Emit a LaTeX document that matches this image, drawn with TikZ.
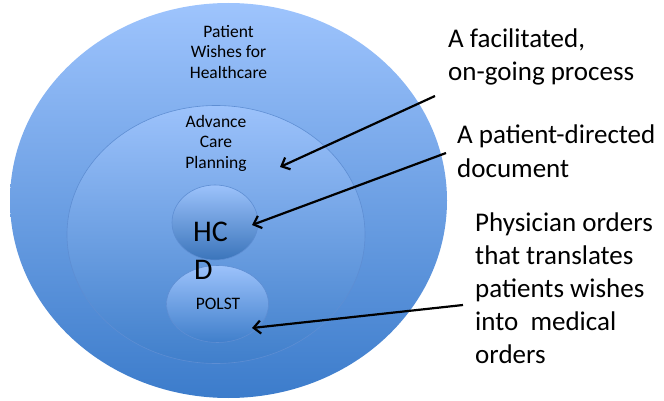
\documentclass[tikz,border=0pt]{standalone}
\usepackage{fontspec}
\setmainfont{Carlito}
\usetikzlibrary{arrows.meta,shapes.geometric}

\definecolor{skyTop}{HTML}{9EC4FD}
\definecolor{skyBot}{HTML}{3C7CCB}
\definecolor{ringTop}{HTML}{9CC2FB}
\definecolor{ringBot}{HTML}{407FCB}
\definecolor{ringEdge}{HTML}{5E8ED3}

\tikzset{
  bubble/.style={ellipse, inner sep=0pt, top color=ringTop, bottom color=ringBot,
                 draw=ringEdge, line width=0.6pt},
  smalltxt/.style={font=\fontsize{17.5}{20.5}\selectfont, align=center, inner sep=0pt},
  bigtxt/.style={font=\fontsize{27}{33}\selectfont, align=left, inner sep=0pt, anchor=base west},
  pointer/.style={line width=2.2pt, -{Straight Barb[length=7pt,width=13pt]}}
}

\begin{document}
\begin{tikzpicture}[x=1pt, y=-1pt]
  \useasboundingbox (0,0) rectangle (664,401);

  % nested ellipses
  \node[ellipse, inner sep=0pt, minimum width=437pt, minimum height=395pt,
        top color=skyTop, bottom color=skyBot] (wishes) at (228.5,200.5) {};
  \node[bubble, minimum width=298pt, minimum height=258pt] (acp) at (216,234.5) {};
  \node[bubble, minimum width=86pt, minimum height=75pt,
        top color=ringTop, bottom color=ringBot!92!black] (hcd) at (215,222.5) {};
  \node[bubble, minimum width=102pt, minimum height=77pt] (polst) at (217.5,304) {};

  % labels inside the ellipses
  \node[smalltxt] (wishesLbl) at (228.5,52) {Patient\\Wishes for\\Healthcare};
  \node[smalltxt] (acpLbl) at (216,143) {Advance\\Care\\Planning};
  \node[font=\fontsize{30}{38}\selectfont, inner sep=0pt, anchor=base west] (hcLbl) at (193,241) {HC};
  \node[font=\fontsize{30}{38}\selectfont, inner sep=0pt, anchor=base west] (dLbl) at (194,279) {D};
  \node[smalltxt, anchor=base] (polstLbl) at (218,309) {POLST};

  % explanatory text on the right (anchored at the baseline of the last line)
  \node[bigtxt] (processTxt) at (448,81) {A facilitated,\\on-going process};
  \node[bigtxt] (documentTxt) at (457,177) {A patient-directed\\document};
  \node[bigtxt] (ordersTxt) at (475,363) {Physician orders\\that translates\\patients wishes\\into~~medical\\orders};

  % arrow end points
  \coordinate (p1) at (435,96);
  \coordinate (q1) at (280,167);
  \coordinate (p2) at (446,153);
  \coordinate (q2) at (252,225);
  \coordinate (p3) at (463,305);
  \coordinate (q3) at (252,328);

  \draw[pointer] (p1) -- (q1);
  \draw[pointer] (p2) -- (q2);
  \draw[pointer] (p3) -- (q3);
\end{tikzpicture}
\end{document}
